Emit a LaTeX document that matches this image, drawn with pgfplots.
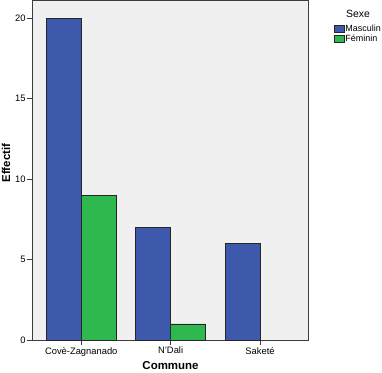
\documentclass[border=0pt]{standalone}
\usepackage{fontspec}
\setmainfont{Liberation Sans}
\usepackage{pgfplots}
\pgfplotsset{compat=1.18}
\definecolor{bblue}{RGB}{62,88,172}
\definecolor{bgreen}{RGB}{46,184,78}
\definecolor{bggray}{RGB}{240,240,240}
\definecolor{framec}{RGB}{60,60,60}
\begin{document}
\begin{tikzpicture}[x=1bp,y=1bp]
\path[use as bounding box] (0,0) rectangle (382,373);
\begin{axis}[
  at={(32.3bp,33bp)}, anchor=south west,
  scale only axis, width=276.4bp, height=340bp,
  xmin=-0.548, xmax=2.545, ymin=0, ymax=21.12,
  ybar=0pt, bar width=0.39,
  axis background/.style={fill=bggray},
  axis line style={framec, line width=0.8bp},
  xtick={0,1,2}, xticklabels={Covè-Zagnanado, N'Dali, Saketé},
  ytick={0,5,...,20},
  tick align=outside, major tick length=5bp,
  xtick pos=bottom, ytick pos=left,
  tick style={framec, line width=0.8bp},
  tick label style={font=\fontsize{9.4}{10}\selectfont},
  /pgf/number format/assume math mode=true,
  xticklabel style={inner sep=1bp, yshift=-1bp},
  yticklabel style={inner sep=1.5bp},
  xlabel={Commune}, ylabel={Effectif},
  label style={font=\bfseries\fontsize{11.5}{13}\selectfont},
  xlabel style={at={(axis description cs:0.5,-0.074)}, anchor=center},
  ylabel style={at={(axis description cs:-0.095,0.52)}, anchor=center},
  legend style={at={(axis description cs:1,1)}, anchor=north west,
    xshift=25.5bp, yshift=-24.5bp, draw=none, fill=none,
    font=\fontsize{9}{9}\selectfont, inner sep=0pt,
    cells={anchor=west}, row sep=0.8bp,
    nodes={inner sep=0.4bp, text height=6.5bp, text depth=1.5bp}},
]
\addplot[fill=bblue, draw=black!85, line width=0.8bp,
  legend image code/.code={\draw[fill=bblue, draw=black!85, line width=0.6bp] (0bp,-3.5bp) rectangle (10bp,3.5bp);}]
  coordinates {(0,20) (1,7) (2,6)};
\addplot[fill=bgreen, draw=black!85, line width=0.8bp,
  legend image code/.code={\draw[fill=bgreen, draw=black!85, line width=0.6bp] (0bp,-3.5bp) rectangle (10bp,3.5bp);}]
  coordinates {(0,9) (1,1)};
\legend{Masculin, Féminin}
\end{axis}
\node[font=\fontsize{10.5}{12}\selectfont] at (358,359) {Sexe};
\end{tikzpicture}
\end{document}
